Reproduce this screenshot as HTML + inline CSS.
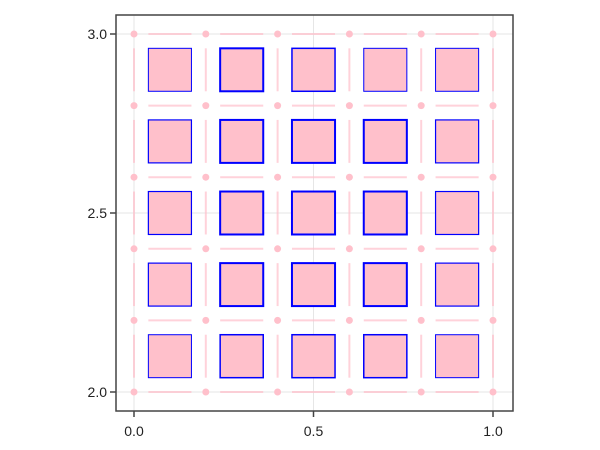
<!DOCTYPE html>
<html><head><meta charset="utf-8"><style>
body{margin:0;background:#fff;}
svg{display:block;font-family:"Liberation Sans",sans-serif;}
</style></head><body>
<svg id="c" width="600" height="450"></svg>
<script>
const colCenters=[0.1,0.3,0.5,0.7,0.9];
const rowCenters=[2.9,2.7,2.5,2.3,2.1];
const strokeWidths=[[1,2,1.5,1,1],[1.2,2,2,2,1.2],[1.2,2,2,2,1.2],[1.2,2,2,2,1.2],[1,1.5,1.5,1.5,1]];
const halfSize=0.06;
const dotXs=[0,0.2,0.4,0.6,0.8,1.0];
const dotYs=[2,2.2,2.4,2.6,2.8,3.0];
const xTicks=[0,0.5,1.0];
const xTickLabels=["0.0","0.5","1.0"];
const yTicks=[2,2.5,3];
const yTickLabels=["2.0","2.5","3.0"];
const NS="http://www.w3.org/2000/svg";
const svg=document.getElementById('c');
const L=116,R=513,T=15,B=411;
const sx=v=>134+(v-0)*359;
const sy=v=>392-(v-2)*358;
function el(t,a){const e=document.createElementNS(NS,t);for(const k in a)e.setAttribute(k,a[k]);svg.appendChild(e);return e;}
xTicks.forEach(v=>{const g=el('line',{x1:sx(v),x2:sx(v),y1:T,y2:B,stroke:'#e6e6e6','stroke-width':1});

});
yTicks.forEach(v=>{const g=el('line',{x1:L,x2:R,y1:sy(v),y2:sy(v),stroke:'#e6e6e6','stroke-width':1});

});
dotYs.forEach(y=>colCenters.forEach(x=>{const s=el('line',{x1:sx(x-halfSize),x2:sx(x+halfSize),y1:sy(y),y2:sy(y),stroke:'#ffc0cb','stroke-width':2,opacity:0.7});

}));
dotXs.forEach(x=>rowCenters.forEach(y=>{const s=el('line',{x1:sx(x),x2:sx(x),y1:sy(y-halfSize),y2:sy(y+halfSize),stroke:'#ffc0cb','stroke-width':2,opacity:0.7});

}));
dotYs.forEach(y=>dotXs.forEach(x=>{const d=el('circle',{cx:sx(x),cy:sy(y),r:3.5,fill:'#ffc0cb'});

}));
rowCenters.forEach((y,i)=>colCenters.forEach((x,j)=>{
const x0=sx(x-halfSize),x1=sx(x+halfSize),y0=sy(y+halfSize),y1=sy(y-halfSize);
const r=el('rect',{x:x0,y:y0,width:x1-x0,height:y1-y0,fill:'#ffc0cb',stroke:'#0000ff','stroke-width':strokeWidths[i][j]});

}));
const f=el('rect',{x:L,y:T,width:R-L,height:B-T,fill:'none',stroke:'#444','stroke-width':1.5});


xTicks.forEach((v,i)=>{const t=el('line',{x1:sx(v),x2:sx(v),y1:B,y2:B+6,stroke:'#444','stroke-width':1.5});


const tx=el('text',{x:sx(v),y:B+25,'text-anchor':'middle','font-size':14,fill:'#222'});tx.textContent=xTickLabels[i];

});
yTicks.forEach((v,i)=>{const t=el('line',{x1:L-6,x2:L,y1:sy(v),y2:sy(v),stroke:'#444','stroke-width':1.5});


const tx=el('text',{x:L-9,y:sy(v)+5,'text-anchor':'end','font-size':14,fill:'#222'});tx.textContent=yTickLabels[i];

});
</script>
</body></html>
